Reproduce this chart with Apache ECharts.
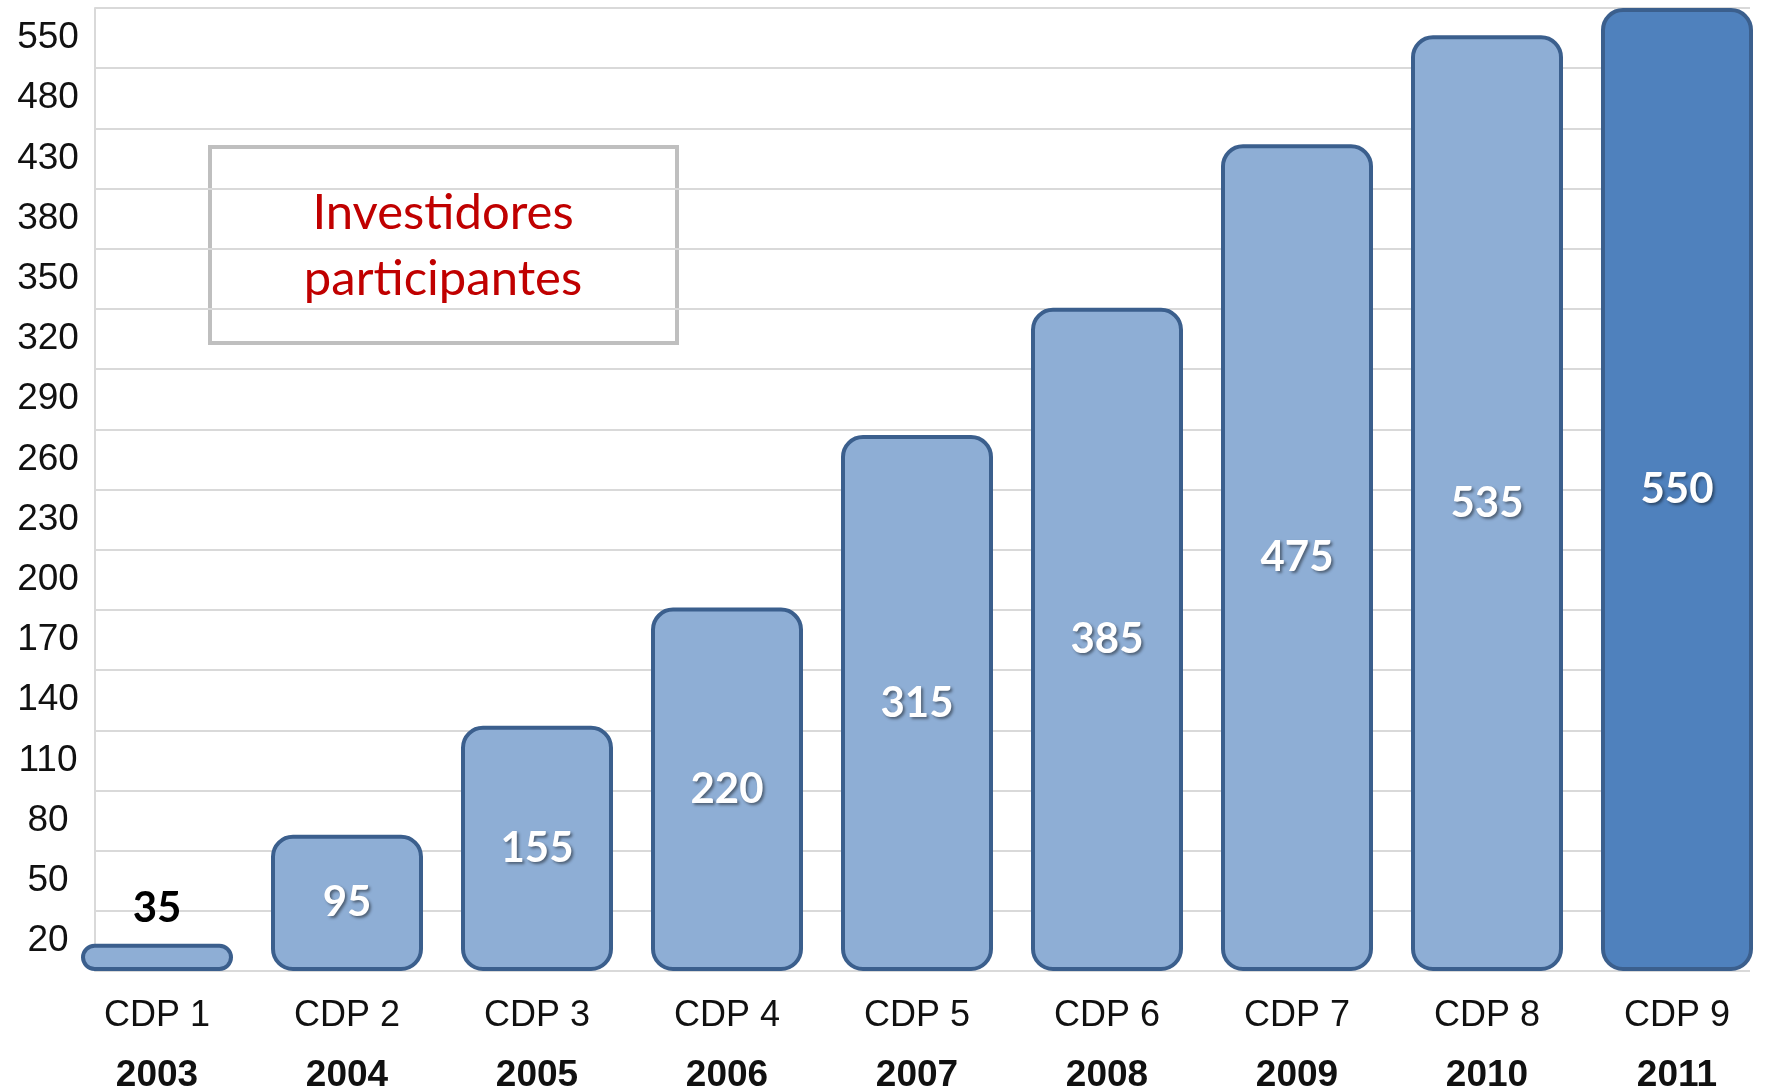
<!DOCTYPE html>
<html lang="pt">
<head>
	<meta charset="UTF-8">
	<title>Investidores participantes</title>
	<style>
		html, body { margin: 0; padding: 0; background: #FFF; }
	</style>
</head>
<body>
	<div id="chart" style="height:1091px;width:1769px;"></div>
</body>
<script type="text/javascript" src="https://cdn.jsdelivr.net/npm/echarts@6/dist/echarts.min.js"></script>
<script type="text/javascript">
	// dados
	const categories = ['CDP 1', 'CDP 2', 'CDP 3', 'CDP 4', 'CDP 5', 'CDP 6', 'CDP 7', 'CDP 8', 'CDP 9'];
	const years = ['2003', '2004', '2005', '2006', '2007', '2008', '2009', '2010', '2011'];
	const investors = [35, 95, 155, 220, 315, 385, 475, 535, 550];
	const tickLabels = ['20', '50', '80', '110', '140', '170', '200', '230', '260', '290', '320', '350', '380', '430', '480', '550'];

	let myChart = echarts.init(document.getElementById('chart'));

	let barData = investors.map(function (v, i) {
		let item = { value: v };
		if (i === 0) {
			// barra pequena: rótulo preto em cima
			item.label = {
				position: 'top',
				distance: 14,
				color: '#000',
				fontSize: 42,
				textShadowBlur: 0,
				textShadowOffsetX: 0,
				textShadowOffsetY: 0
			};
		}
		if (i === investors.length - 1) {
			item.itemStyle = { color: '#4f81bd' };
		}
		return item;
	});

	let option = {
		animation: false,
		grid: [
			{ left: 95, right: 19, top: 8, bottom: 120, outerBoundsMode: 'none' }, // linhas de grade + eixo y
			{ left: 62, width: 1710, top: 8, bottom: 120, outerBoundsMode: 'none' } // barras
		],
		xAxis: [
			{ gridIndex: 0, type: 'value', show: false },
			{
				gridIndex: 1,
				type: 'category',
				data: categories,
				axisLine: { show: false },
				axisTick: { show: false },
				axisLabel: {
					margin: 15,
					formatter: function (value, index) {
						return '{a|' + value + '}\n{b|' + years[index] + '}';
					},
					rich: {
						a: { fontFamily: 'Liberation Sans', fontSize: 36, color: '#111', lineHeight: 60 },
						b: { fontFamily: 'Liberation Sans', fontSize: 37, fontWeight: 'bold', color: '#111', lineHeight: 60 }
					}
				}
			}
		],
		yAxis: [
			{
				gridIndex: 0,
				type: 'category',
				data: tickLabels,
				axisLine: { show: true, lineStyle: { color: '#d9d9d9', width: 2 } },
				axisTick: { show: false },
				axisLabel: {
					align: 'center',
					margin: 47,
					fontFamily: 'Liberation Sans',
					fontSize: 37,
					color: '#111'
				},
				splitLine: { show: true, lineStyle: { color: '#d9d9d9', width: 2 } }
			},
			{
				gridIndex: 1,
				type: 'value',
				min: 20,
				max: 550,
				startValue: 20,
				show: false,
				splitLine: { show: false }
			}
		],
		series: [
			{
				type: 'bar',
				xAxisIndex: 1,
				yAxisIndex: 1,
				barWidth: 152,
				data: barData,
				itemStyle: {
					color: '#8eaed5',
					borderColor: '#3b5f8d',
					borderWidth: 4,
					borderRadius: 20
				},
				label: {
					show: true,
					position: 'inside',
					fontFamily: 'Lato',
					fontWeight: 'bold',
					fontSize: 42,
					color: '#fff',
					textShadowColor: 'rgba(0,0,0,0.45)',
					textShadowBlur: 3,
					textShadowOffsetX: 2,
					textShadowOffsetY: 2
				}
			}
		],
		graphic: [
			{
				type: 'group',
				left: 208,
				top: 145,
				children: [
					{
						type: 'rect',
						shape: { x: 0, y: 0, width: 467, height: 196 },
						style: { fill: '#fff', stroke: '#bfbfbf', lineWidth: 4 }
					},
					{
						type: 'text',
						x: 233,
						y: 99,
						style: {
							text: 'Investidores\nparticipantes',
							fill: '#c00000',
							font: '49px Lato',
							lineHeight: 66,
							align: 'center',
							verticalAlign: 'middle'
						}
					}
				]
			}
		]
	};

	myChart.setOption(option);
</script>
</html>
